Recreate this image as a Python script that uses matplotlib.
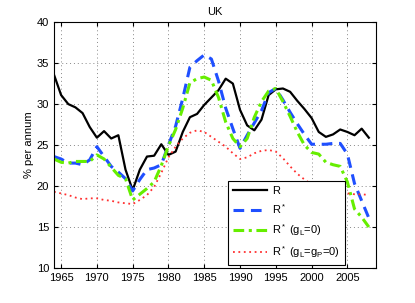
import matplotlib
matplotlib.use('Agg')
import matplotlib.pyplot as plt

# dados (UK, % ao ano)
anos = list(range(1964, 2009))

r = [33.6, 31.1, 30.0, 29.6, 28.9, 27.2, 25.9, 26.7, 25.8, 26.2,
     22.0, 19.5, 22.0, 23.6, 23.7, 25.1, 23.8, 24.2, 26.6, 28.4,
     28.8, 29.9, 30.8, 31.7, 33.1, 32.5, 29.3, 27.4, 26.8, 28.1,
     31.1, 31.8, 31.9, 31.5, 30.4, 29.4, 28.3, 26.6, 26.0, 26.3,
     26.9, 26.6, 26.2, 27.0, 25.9]

r_star = [23.6, 23.3, 22.8, 22.8, 22.6, 23.2, 24.8, 23.6, 22.4, 21.7,
          20.9, 19.4, 20.8, 22.0, 22.2, 22.6, 25.0, 27.3, 30.7, 34.5,
          35.3, 36.0, 35.5, 32.8, 29.5, 27.0, 24.6, 26.2, 27.7, 29.2,
          31.4, 31.9, 30.5, 29.0, 27.6, 26.3, 25.1, 25.1, 25.1, 25.2,
          25.2, 23.9, 20.3, 18.2, 16.1]

r_star_gl = [23.3, 22.9, 22.8, 23.0, 23.0, 23.0, 23.8, 23.3, 22.3, 21.3,
             20.9, 18.3, 19.0, 19.7, 20.5, 22.5, 24.9, 26.9, 29.5, 32.6,
             33.1, 33.3, 32.9, 30.8, 27.8, 25.8, 24.8, 25.8, 28.4, 30.3,
             31.6, 31.9, 30.3, 28.5, 26.6, 25.0, 24.1, 23.9, 22.9, 22.6,
             22.4, 20.5, 17.2, 16.2, 15.0]

r_star_glgp = [19.3, 19.1, 18.9, 18.6, 18.4, 18.5, 18.5, 18.3, 18.2, 18.0,
               17.9, 17.8, 18.3, 18.9, 19.9, 21.6, 23.5, 24.8, 25.8, 26.5,
               26.8, 26.6, 26.0, 25.4, 24.8, 24.0, 23.3, 23.5, 24.0, 24.3,
               24.4, 24.2, 23.4, 22.4, 21.5, 20.8, 20.2, 19.8, 19.5, 19.3,
               19.2, 19.1, 19.0, 19.0, 18.9]

plt.rcParams['font.family'] = ['Liberation Sans', 'DejaVu Sans']
plt.rcParams['mathtext.fontset'] = 'custom'
plt.rcParams['mathtext.rm'] = 'Liberation Sans'
plt.rcParams['mathtext.it'] = 'Liberation Sans'

fig = plt.figure(figsize=(4.15, 3.03), dpi=100)
ax = fig.add_axes([0.130, 0.1155, 0.776, 0.8115])

ax.plot(anos, r, color='black', lw=1.6, label='R')
ax.plot(anos, r_star, color='#1f4fff', lw=2.2, ls=(0, (3.5, 2.2)), label='R$^*$')
ax.plot(anos, r_star_gl, color='#66ee00', lw=2.2, ls=(0, (3.5, 1.5, 1, 1.5)),
        label='R$^*$ (g$_\\mathrm{L}$=0)')
ax.plot(anos, r_star_glgp, color='#ff3030', lw=1.3, ls=(0, (1, 2)),
        label='R$^*$ (g$_\\mathrm{L}$=g$_\\mathrm{P}$=0)')

ax.set_xlim(1964, 2009)
ax.set_ylim(10, 40)
ax.set_xticks(range(1965, 2010, 5))
ax.set_yticks(range(10, 41, 5))
ax.tick_params(direction='in', top=True, right=True, labelsize=8, length=3)
ax.grid(True, color='#888888', ls=(0, (1, 3)), lw=0.7)
ax.set_title('UK', fontsize=8, pad=5)
ax.set_ylabel('% per annum', fontsize=8, labelpad=2)

leg = ax.legend(loc='lower right', bbox_to_anchor=(0.904, 0.012), fontsize=8,
                fancybox=False, edgecolor='black', framealpha=1,
                handlelength=3.0, handletextpad=0.5, borderpad=0.45,
                labelspacing=0.55, borderaxespad=0)
leg.get_frame().set_linewidth(0.8)

fig.savefig('out.png', dpi=100)
